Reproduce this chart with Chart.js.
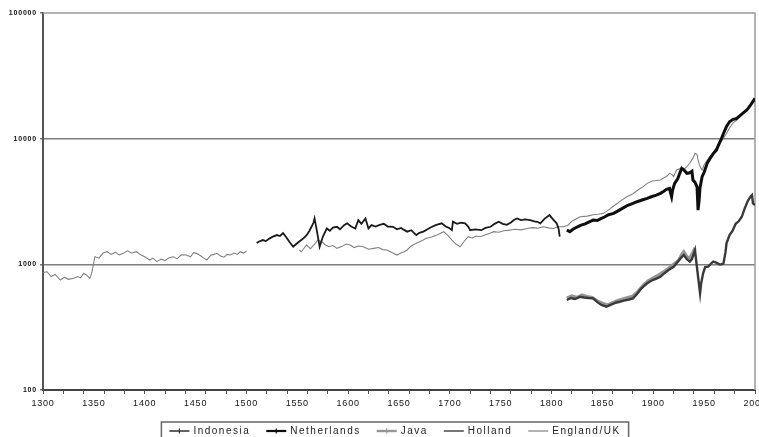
<!DOCTYPE html>
<html>
<head>
<meta charset="utf-8">
<script src="https://cdn.jsdelivr.net/npm/chart.js"></script>
<style>
  html, body { margin: 0; padding: 0; background: #fff; }
  canvas { display: block; }
</style>
</head>
<body>
<canvas id="gdpChart" width="759" height="437"></canvas>
<script>
(() => {

    // [year, GDP per capita]
    const indonesia = [
        [1815, 520], [1819, 540], [1823, 530], [1828, 552], [1832, 545], [1836, 540], [1841, 536],
        [1845, 500], [1849, 475], [1854, 460], [1858, 475], [1863, 495], [1867, 504], [1871, 515],
        [1876, 525], [1880, 536], [1884, 580], [1888, 640], [1894, 706], [1898, 740], [1903, 770],
        [1907, 797], [1911, 850], [1915, 900], [1920, 957], [1924, 1050], [1927, 1120], [1930, 1186],
        [1933, 1100], [1936, 1050], [1938, 1100], [1941, 1300], [1942, 1100], [1944, 800], [1946, 588],
        [1947, 700], [1949, 848], [1951, 950], [1954, 957], [1957, 1020], [1959, 1050], [1962, 1030],
        [1965, 1000], [1967, 1000], [1969, 1018], [1971, 1250], [1972, 1470], [1975, 1710], [1978, 1850],
        [1981, 2100], [1984, 2200], [1987, 2390], [1990, 2800], [1993, 3200], [1996, 3500], [1997, 3560],
        [1998, 3050], [2000, 2960]
    ];

    const netherlands = [
        [1815, 1870], [1818, 1820], [1821, 1900], [1825, 1980], [1829, 2050], [1833, 2100], [1837, 2180],
        [1841, 2250], [1845, 2230], [1848, 2300], [1852, 2380], [1856, 2480], [1861, 2545], [1865, 2650],
        [1870, 2800], [1875, 2950], [1880, 3055], [1884, 3150], [1889, 3250], [1894, 3350], [1898, 3450],
        [1903, 3550], [1907, 3670], [1910, 3800], [1913, 3950], [1916, 4020], [1917, 3700], [1918, 3450],
        [1919, 3900], [1921, 4410], [1924, 4800], [1926, 5300], [1928, 5800], [1930, 5650], [1933, 5300],
        [1936, 5350], [1938, 5500], [1939, 4690], [1941, 4500], [1943, 4140], [1944, 2700], [1945, 3200],
        [1946, 4100], [1948, 4980], [1950, 5400], [1953, 6360], [1956, 7000], [1959, 7600], [1962, 8110],
        [1965, 9200], [1967, 10000], [1969, 11000], [1972, 12500], [1975, 13640], [1978, 14200],
        [1982, 14500], [1985, 15200], [1989, 16200], [1992, 16900], [1995, 18200], [1998, 19800],
        [2000, 20900]
    ];

    const java = [
        [1815, 540], [1820, 560], [1825, 545], [1830, 570], [1835, 555], [1840, 545], [1845, 510],
        [1850, 490], [1855, 475], [1860, 495], [1865, 515], [1870, 530], [1875, 545], [1880, 560],
        [1885, 610], [1890, 680], [1895, 740], [1900, 780], [1905, 820], [1910, 870], [1915, 930],
        [1920, 1000], [1925, 1080], [1928, 1200], [1930, 1260], [1933, 1150], [1936, 1120], [1939, 1250],
        [1941, 1350]
    ];

    const holland = [
        [1510, 1480], [1512, 1513], [1516, 1560], [1519, 1530], [1523, 1610], [1526, 1660], [1530, 1710],
        [1533, 1680], [1536, 1770], [1539, 1650], [1542, 1520], [1546, 1380], [1549, 1450], [1552, 1520],
        [1556, 1610], [1559, 1700], [1562, 1850], [1564, 1990], [1566, 2150], [1567, 2320], [1569, 1900],
        [1572, 1380], [1575, 1650], [1579, 1930], [1582, 1850], [1585, 1960], [1589, 1990], [1592, 1900],
        [1596, 2050], [1599, 2120], [1603, 2000], [1607, 1930], [1610, 2250], [1613, 2100], [1617, 2320],
        [1620, 1930], [1623, 2050], [1627, 2000], [1631, 2060], [1635, 2100], [1639, 2000], [1644, 1990],
        [1648, 1900], [1652, 1950], [1655, 1880], [1658, 1820], [1662, 1870], [1667, 1710], [1670, 1780],
        [1674, 1820], [1678, 1900], [1682, 1980], [1686, 2050], [1692, 2120], [1696, 2000], [1699, 1950],
        [1702, 1870], [1703, 2185], [1707, 2100], [1711, 2150], [1715, 2120], [1718, 2000], [1720, 1870],
        [1725, 1900], [1731, 1870], [1735, 1950], [1740, 1990], [1744, 2100], [1748, 2185], [1752, 2100],
        [1756, 2060], [1760, 2150], [1763, 2250], [1766, 2320], [1770, 2250], [1774, 2280], [1779, 2250],
        [1783, 2200], [1786, 2180], [1789, 2120], [1793, 2300], [1798, 2465], [1801, 2300], [1805, 2120],
        [1807, 1900], [1808, 1660]
    ];

    // null marks the break in the English series after 1500
    const england = [
        [1300, 860], [1304, 873], [1308, 800], [1312, 830], [1317, 750], [1321, 790], [1325, 760],
        [1330, 774], [1334, 800], [1337, 780], [1340, 848], [1343, 820], [1346, 774], [1348, 860],
        [1351, 1150], [1355, 1120], [1359, 1230], [1363, 1260], [1367, 1200], [1371, 1250], [1375, 1190],
        [1379, 1223], [1383, 1280], [1387, 1230], [1392, 1260], [1396, 1190], [1400, 1150], [1405, 1081],
        [1408, 1120], [1412, 1050], [1416, 1100], [1420, 1070], [1424, 1130], [1428, 1150], [1432, 1110],
        [1436, 1190], [1441, 1186], [1445, 1150], [1448, 1240], [1451, 1223], [1455, 1170], [1458, 1120],
        [1461, 1081], [1465, 1180], [1468, 1200], [1471, 1223], [1475, 1160], [1478, 1140], [1481, 1200],
        [1484, 1186], [1488, 1230], [1491, 1200], [1494, 1260], [1497, 1230], [1500, 1270],
        [1525, null],
        [1552, 1300], [1554, 1260], [1559, 1425], [1563, 1330], [1567, 1450], [1570, 1560], [1574, 1513],
        [1577, 1440], [1581, 1380], [1585, 1410], [1589, 1340], [1594, 1390], [1598, 1450], [1602, 1425],
        [1606, 1360], [1610, 1400], [1615, 1380], [1620, 1320], [1625, 1340], [1630, 1360], [1634, 1310],
        [1638, 1300], [1643, 1240], [1648, 1186], [1652, 1230], [1655, 1260], [1658, 1300], [1662, 1400],
        [1667, 1470], [1671, 1520], [1677, 1610], [1682, 1650], [1688, 1720], [1694, 1820], [1698, 1700],
        [1702, 1560], [1706, 1450], [1710, 1380], [1714, 1520], [1718, 1660], [1722, 1620], [1726, 1680],
        [1730, 1660], [1735, 1720], [1739, 1760], [1743, 1820], [1748, 1800], [1753, 1850], [1759, 1870],
        [1764, 1900], [1770, 1880], [1776, 1930], [1781, 1960], [1786, 1940], [1792, 1990], [1797, 1950],
        [1802, 1930], [1806, 1990], [1812, 1990], [1816, 2050], [1820, 2200], [1828, 2390], [1835, 2420],
        [1841, 2480], [1846, 2500], [1851, 2545], [1857, 2750], [1862, 2950], [1868, 3200], [1874, 3450],
        [1880, 3650], [1885, 3900], [1890, 4150], [1894, 4410], [1899, 4600], [1903, 4650], [1907, 4690],
        [1911, 4900], [1913, 5000], [1916, 5300], [1918, 5200], [1920, 5000], [1923, 5630], [1927, 5800],
        [1930, 5700], [1933, 5980], [1936, 6400], [1939, 7000], [1941, 7640], [1943, 7500], [1944, 6770],
        [1946, 6000], [1948, 5630], [1950, 6200], [1953, 6760], [1957, 7400], [1960, 8000], [1964, 8900],
        [1968, 9800], [1972, 11000], [1975, 12200], [1979, 13500], [1982, 14000], [1986, 15300],
        [1990, 16600], [1994, 17500], [1997, 19000], [2000, 20500]
    ];

    const yTicks = [100, 1000, 10000, 100000];
    const xLabelEvery = 50,
        xTickEvery = 20;

    const fontFamily = "'Liberation Sans', Arial, sans-serif";

    const toPoints = arr => arr.map(([x, y]) => ({x, y}));

    const series = [
        {label: 'Indonesia', data: indonesia, color: '#3a3a3a', width: 2.4, marker: true},
        {label: 'Netherlands', data: netherlands, color: '#0e0e0e', width: 3, marker: true},
        {label: 'Java', data: java, color: '#969696', width: 3.2, marker: true},
        {label: 'Holland', data: holland, color: '#1a1a1a', width: 1.8, marker: false},
        {label: 'England/UK', data: england, color: '#808080', width: 1.1, marker: false}
    ];

    const setSpacing = (chart) => {
        chart.ctx.letterSpacing = '0.8px';
    };

    // plot frame (top / right) plus the boxed legend under the axis
    const frameAndLegend = {
        id: 'frameAndLegend',
        beforeLayout: setSpacing,
        beforeDraw: setSpacing,
        beforeDatasetsDraw(chart) {
            const {ctx, chartArea: a} = chart;
            ctx.save();
            ctx.strokeStyle = '#9a9a9a';
            ctx.lineWidth = 1.5;
            ctx.beginPath();
            ctx.moveTo(a.left, a.top);
            ctx.lineTo(a.right, a.top);
            ctx.lineTo(a.right, a.bottom);
            ctx.stroke();
            ctx.restore();
        },
        afterDraw(chart) {
            const ctx = chart.ctx;
            ctx.save();
            ctx.font = `10px ${fontFamily}`;
            ctx.letterSpacing = '1.5px';
            const sample = 20, gap = 4, between = 16, pad = 8;
            const widths = series.map(s => ctx.measureText(s.label).width);
            const total = pad * 2 + widths.reduce((t, w) => t + w + sample + gap, 0) + between * (series.length - 1);
            const left = 395 - total / 2, top = 422, mid = 431;

            ctx.strokeStyle = '#666';
            ctx.lineWidth = 1.5;
            ctx.strokeRect(left, top, total, 20);

            let x = left + pad;
            series.forEach((s, i) => {
                ctx.strokeStyle = s.color;
                ctx.lineWidth = Math.max(1.2, s.width - 0.8);
                ctx.beginPath();
                ctx.moveTo(x, mid);
                ctx.lineTo(x + sample, mid);
                ctx.stroke();
                if (s.marker) {
                    ctx.lineWidth = 1.2;
                    ctx.beginPath();
                    ctx.moveTo(x + sample / 2, mid - 2.5);
                    ctx.lineTo(x + sample / 2, mid + 2.5);
                    ctx.stroke();
                }
                ctx.fillStyle = '#222';
                ctx.textBaseline = 'middle';
                ctx.textAlign = 'left';
                ctx.fillText(s.label, x + sample + gap, mid);
                x += sample + gap + widths[i] + between;
            });
            ctx.restore();
        }
    };

    const config = {
        type: 'line',
        data: {
            datasets: series.map(s => ({
                label: s.label,
                data: toPoints(s.data),
                borderColor: s.color,
                backgroundColor: s.color,
                borderWidth: s.width,
                pointRadius: 0,
                tension: 0,
                spanGaps: false
            }))
        },
        options: {
            responsive: false,
            animation: false,
            devicePixelRatio: 1,
            layout: {
                padding: {top: 13, right: 4, left: 0, bottom: 0}
            },
            plugins: {
                legend: {display: false},
                tooltip: {enabled: false}
            },
            scales: {
                x: {
                    type: 'linear',
                    min: 1300,
                    max: 2000,
                    afterFit: scale => {
                        scale.height = 47;
                        scale.paddingLeft = 0;
                        scale.paddingRight = 0;
                    },
                    ticks: {
                        stepSize: 10,
                        autoSkip: false,
                        maxRotation: 0,
                        padding: 4,
                        color: '#111',
                        font: {family: fontFamily, size: 9},
                        callback: v => (v % xLabelEvery === 0 ? String(v) : '')
                    },
                    grid: {
                        drawOnChartArea: false,
                        drawTicks: true,
                        tickLength: 4,
                        tickColor: c => (c.tick && c.tick.value % xTickEvery === 0 ? '#555' : 'rgba(0,0,0,0)'),
                        tickWidth: 1
                    },
                    border: {color: '#444', width: 2}
                },
                y: {
                    type: 'logarithmic',
                    min: 100,
                    max: 100000,
                    afterFit: scale => {
                        scale.width = 43;
                        scale.paddingTop = 0;
                        scale.paddingBottom = 0;
                    },
                    afterBuildTicks: scale => {
                        scale.ticks = yTicks.map(value => ({value}));
                    },
                    ticks: {
                        padding: 3,
                        color: '#111',
                        font: {family: fontFamily, size: 7, weight: 'bold'},
                        callback: v => String(v)
                    },
                    grid: {
                        color: c => {
                            const v = c.tick && c.tick.value;
                            if (v === 1000 || v === 10000) return '#7e7e7e';
                            return 'rgba(0,0,0,0)';
                        },
                        lineWidth: 1.6,
                        tickLength: 3,
                        tickColor: '#777'
                    },
                    border: {color: '#555', width: 2}
                }
            }
        },
        plugins: [frameAndLegend]
    };

    new Chart(document.getElementById('gdpChart'), config);

})();
</script>
</body>
</html>
